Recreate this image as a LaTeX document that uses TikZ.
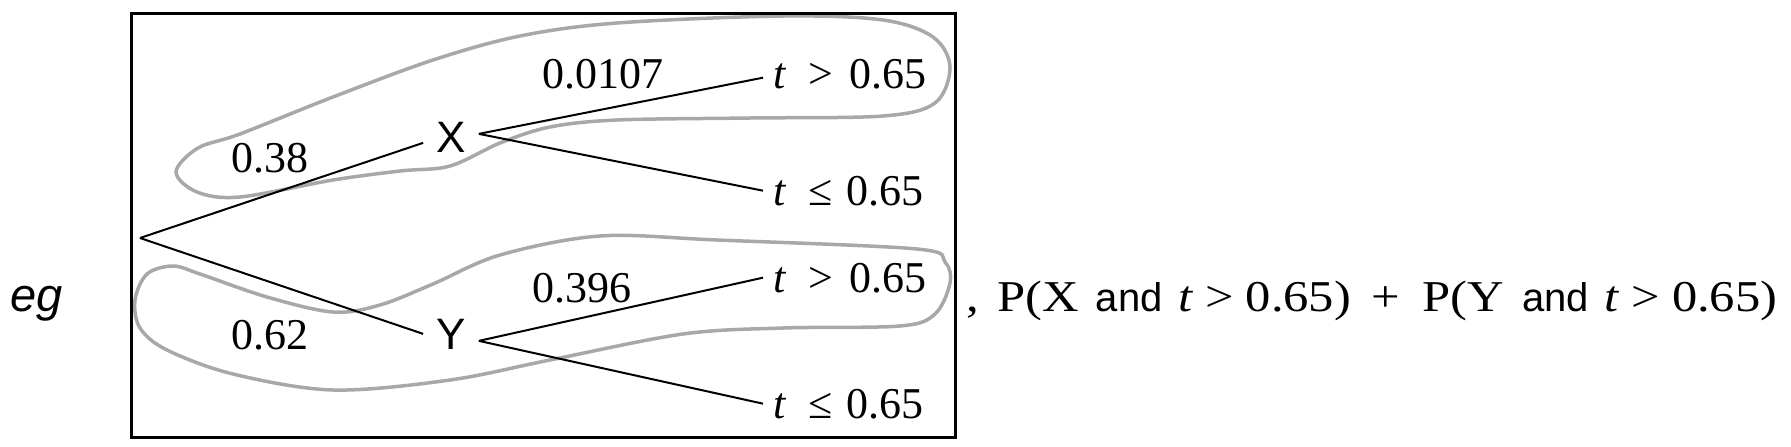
\documentclass[tikz,border=0pt]{standalone}
\usepackage{fontspec}
\setmainfont{Liberation Serif}
\newfontfamily\arial{Liberation Sans}
\newfontfamily\wideserif[FakeStretch=1.15]{Liberation Serif}
\begin{document}
\begin{tikzpicture}[x=1pt,y=-1pt,
  txt/.style={inner sep=0pt, font=\fontsize{44}{50}\selectfont},
  sanstxt/.style={txt, font=\fontsize{44}{50}\selectfont\arial},
  choice/.style={sanstxt, inner xsep=13pt},
  leaf/.style={txt, anchor=base west, inner xsep=10pt},
  branch/.style={line width=2pt, black},
  frame/.style={line width=3pt, black},
  grouploop/.style={line width=3.5pt, color={rgb,255:red,168;green,168;blue,168}}]
\useasboundingbox (0,0) rectangle (1791,447);

% grey loops
\draw[grouploop] plot[smooth cycle, tension=0.55] coordinates {
  (176,172) (198,148) (240,134) (333,97) (433,60) (520,36) (617,23)
  (783,16) (883,20) (933,37) (950,67) (935,103) (883,116) (750,118)
  (617,120) (550,127) (500,143) (450,166) (400,171) (333,180) (240,197) (197,192)};
\draw[grouploop] plot[smooth cycle, tension=0.55] coordinates {
  (135,300) (147,274) (173,266) (200,274) (267,297) (333,312) (380,305)
  (433,284) (500,255) (600,236) (717,240) (917,249) (945,262) (950,283)
  (935,314) (900,326) (783,328) (683,334) (550,360) (450,380) (333,390)
  (233,374) (167,350) (140,328)};

% frame
\draw[frame] (131,13) rectangle (955,437);

% tree
\coordinate (root) at (140,238);
\node[choice, anchor=base] (X) at (451,152) {X};
\node[choice, anchor=base] (Y) at (451,349) {Y};
\node[leaf] (xa) at (763,88)  {\textit{t}\hspace{22pt}>\hspace{16pt}0.65};
\node[leaf] (xb) at (763,205) {\textit{t}\hspace{22pt}≤\hspace{14pt}0.65};
\node[leaf] (ya) at (763,292) {\textit{t}\hspace{22pt}>\hspace{16pt}0.65};
\node[leaf] (yb) at (763,418) {\textit{t}\hspace{22pt}≤\hspace{14pt}0.65};

\draw[branch] (root) -- ([yshift=-6pt]X.west);
\draw[branch] (root) -- (Y.west);
\draw[branch] ([yshift=3pt]X.east) -- ([yshift=-4pt]xa.west);
\draw[branch] ([yshift=3pt]X.east) -- (xb.west);
\draw[branch] ([yshift=-7pt]Y.east) -- (ya.west);
\draw[branch] ([yshift=-7pt]Y.east) -- (yb.west);

% probabilities
\node[txt, anchor=base] (p38)  at (270,172) {0.38};
\node[txt, anchor=base] (p62)  at (270,349) {0.62};
\node[txt, anchor=base] (p107) at (603,88)  {0.0107};
\node[txt, anchor=base] (p396) at (582,302) {0.396};

% side texts
\node[txt, anchor=base west, font=\fontsize{47}{52}\selectfont\arial\itshape] (eg) at (10,311) {eg};
\node[txt, anchor=base west, font=\fontsize{44}{50}\selectfont\wideserif] (formula) at (966,311)
  {,\hspace{19pt}P(X\hspace{16.5pt}{\fontsize{40}{46}\selectfont\arial and}\hspace{15.5pt}\textit{t}\hspace{12pt}>\hspace{12pt}0.65)\hspace{20pt}+\hspace{23pt}P(Y\hspace{18pt}{\fontsize{40}{46}\selectfont\arial and}\hspace{15.5pt}\textit{t}\hspace{12pt}>\hspace{12pt}0.65)};
\end{tikzpicture}
\end{document}
